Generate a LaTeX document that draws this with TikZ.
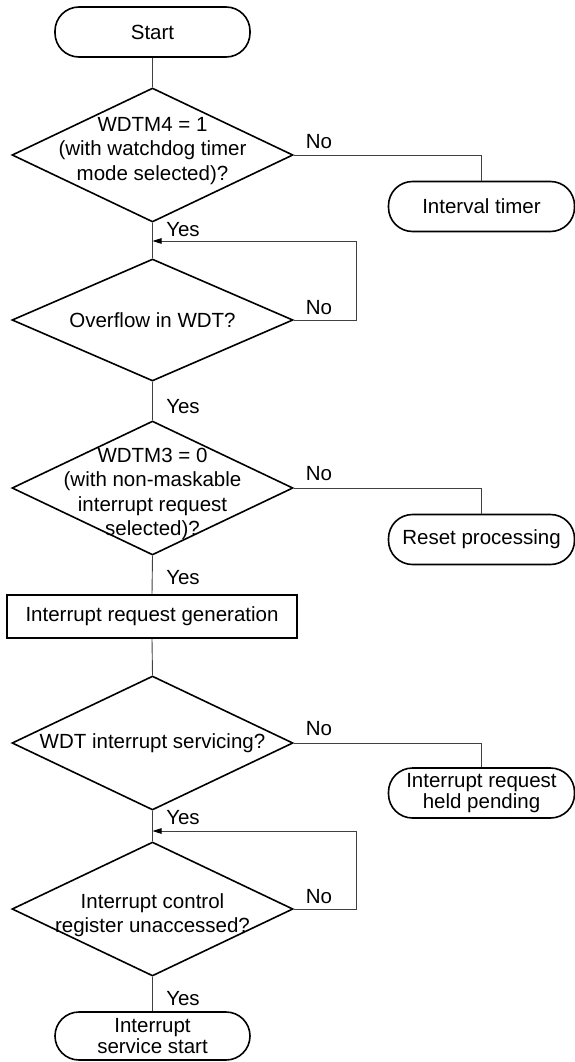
\documentclass[tikz,border=0pt]{standalone}
\usepackage{fontspec}
\setmainfont{Liberation Sans}
\usetikzlibrary{shapes.geometric,arrows.meta,calc}
\newcommand\dfnt{\fontsize{20.5}{24.5}\selectfont}
\newcommand\bfnt{\fontsize{20.5}{20.5}\selectfont}
\begin{document}
\begin{tikzpicture}[x=1pt,y=-1pt,
  dec/.style={draw,shape=diamond,line width=1.6pt,minimum width=281pt,minimum height=134pt,inner sep=0pt},
  dtext/.style={font=\dfnt,align=center,inner sep=0pt},
  term/.style={draw,rectangle,rounded corners=24pt,line width=1.6pt,minimum width=195pt,minimum height=50pt,inner sep=0pt,font=\bfnt,align=center},
  side/.style={term,minimum width=186pt},
  proc/.style={draw,rectangle,line width=1.6pt,minimum width=290pt,minimum height=43pt,inner sep=0pt,font=\bfnt},
  conn/.style={line width=0.9pt,draw=black!75},
  back/.style={conn,-{Triangle[length=9pt,width=5.5pt,color=black]}},
  lab/.style={font=\dfnt,inner sep=0pt}
]
\useasboundingbox (0,0) rectangle (575,1062);

% nodes
\node[term] (start) at (152.5,32) {Start};
\node[dec] (d1) at (152.5,155) {};
\node[dtext] (d1t) at (152.5,151) {WDTM4 = 1\\(with watchdog timer\\mode selected)?};
\node[side] (it) at (481.5,206.5) {Interval timer};
\coordinate (m1) at (152.5,241);
\node[dec,minimum height=122pt] (d2) at (152.5,320) {};
\node[dtext] (d2t) at (152.5,320) {Overflow in WDT?};
\node[dec] (d3) at (152.5,488) {};
\node[dtext] (d3t) at (152.5,494) {WDTM3 = 0\\(with non-maskable\\interrupt request\\selected)?};
\node[side] (rp) at (481.5,539.5) {Reset processing};
\node[proc] (gen) at (152,616.5) {Interrupt request generation};
\node[dec] (d4) at (152.5,743) {};
\node[dtext] (d4t) at (152.5,743) {WDT interrupt servicing?};
\node[side] (hp) at (481.5,793) {Interrupt request\\held pending};
\coordinate (m2) at (152.5,831);
\node[dec] (d5) at (152.5,909) {};
\node[dtext] (d5t) at (152.5,915) {Interrupt control\\register unaccessed?};
\node[term,minimum height=48pt] (stop) at (152.5,1036) {Interrupt\\service start};

% main flow
\draw[conn] (start.south) -- (d1.north);
\draw[conn] (d1.south) -- (d2.north);
\draw[conn] (d2.south) -- (d3.north);
\draw[conn] (d3.south) -- (gen.north);
\draw[conn] (gen.south) -- (d4.north);
\draw[conn] (d4.south) -- (d5.north);
\draw[conn] (d5.south) -- (stop.north);

% No branches
\draw[conn] (d1.east) -| (it.north);
\draw[conn] (d3.east) -| (rp.north);
\draw[conn] (d4.east) -| (hp.north);

% loops
\draw[back] (d2.east) -- ++(62.5,0) |- (m1);
\draw[back] (d5.east) -- ++(62.5,0) |- (m2);

% labels
\node[lab] (n1) at (319,142) {No};
\node[lab] (n2) at (319,308) {No};
\node[lab] (n3) at (319,474) {No};
\node[lab] (n4) at (319,729) {No};
\node[lab] (n5) at (319,897) {No};
\node[lab] (y1) at (183,230) {Yes};
\node[lab] (y2) at (183,407) {Yes};
\node[lab] (y3) at (183,578) {Yes};
\node[lab] (y4) at (183,818) {Yes};
\node[lab] (y5) at (183,999) {Yes};
\end{tikzpicture}
\end{document}
